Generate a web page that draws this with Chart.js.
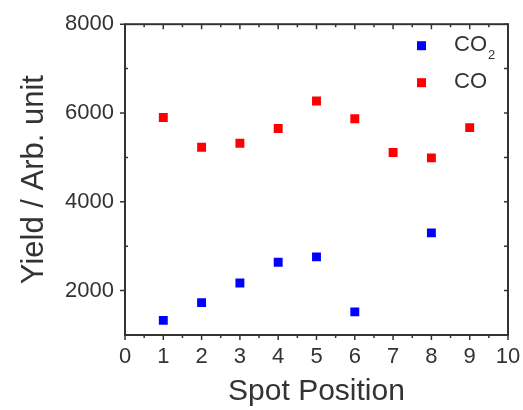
<!DOCTYPE html>
<html>
<head>
<meta charset="utf-8">
<script src="https://cdn.jsdelivr.net/npm/chart.js@4/dist/chart.umd.min.js"></script>
<style>
  body { margin: 0; background: #fff; }
  canvas { display: block; }
</style>
</head>
<body>
<canvas id="yieldChart" width="523" height="410"></canvas>
<script>
// data
const co2Spots = [1, 2, 3, 4, 5, 6, 8];
const co2Yield = [1330, 1730, 2170, 2640, 2760, 1520, 3300];
const coSpots = [1, 2, 3, 4, 5, 6, 7, 8, 9];
const coYield = [5900, 5230, 5320, 5650, 6270, 5870, 5110, 4990, 5670];

const xMajorTicks = [0, 1, 2, 3, 4, 5, 6, 7, 8, 9, 10];
const xMinorTicks = [0.5, 1.5, 2.5, 3.5, 4.5, 5.5, 6.5, 7.5, 8.5, 9.5];
const yMajorTicks = [2000, 4000, 6000, 8000];
const yMinorTicks = [1000, 3000, 5000, 7000];

const axisColor = '#333';
const fontFamily = '"Liberation Sans", Arial, sans-serif';

function toPoints(xs, ys) {
    return xs.map((x, i) => ({ x: x, y: ys[i] }));
}

// Box frame, tick marks on all four sides
const framePlugin = {
    id: 'frame',
    afterDraw(chart) {
        const ctx = chart.ctx;
        const { left, right, top, bottom } = chart.chartArea;
        const x = chart.scales.x;
        const y = chart.scales.y;
        ctx.save();
        ctx.strokeStyle = axisColor;
        ctx.lineWidth = 2;
        ctx.strokeRect(left, top, right - left, bottom - top);

        ctx.lineWidth = 1.5;
        ctx.beginPath();
        xMajorTicks.forEach(v => {
            const px = x.getPixelForValue(v);
            ctx.moveTo(px, bottom); ctx.lineTo(px, bottom + 5);
            ctx.moveTo(px, top); ctx.lineTo(px, top + 5);
        });
        xMinorTicks.forEach(v => {
            const px = x.getPixelForValue(v);
            ctx.moveTo(px, bottom); ctx.lineTo(px, bottom + 3);
            ctx.moveTo(px, top); ctx.lineTo(px, top + 3);
        });
        yMajorTicks.forEach(v => {
            const py = y.getPixelForValue(v);
            ctx.moveTo(left - 5, py); ctx.lineTo(left, py);
            ctx.moveTo(right, py); ctx.lineTo(right - 4, py);
        });
        yMinorTicks.forEach(v => {
            const py = y.getPixelForValue(v);
            ctx.moveTo(left, py); ctx.lineTo(left + 3, py);
            ctx.moveTo(right, py); ctx.lineTo(right - 4, py);
        });
        ctx.stroke();
        ctx.restore();
    }
};

// Legend in the upper right corner, with the subscript for CO2
const legendPlugin = {
    id: 'cornerLegend',
    afterDraw(chart) {
        const ctx = chart.ctx;
        const { right, top } = chart.chartArea;
        const entries = chart.data.datasets.map(ds => ({ color: ds.backgroundColor, label: ds.label, sub: ds.sub }));
        ctx.save();
        ctx.textBaseline = 'middle';
        entries.forEach((e, i) => {
            const cy = top + 21 + i * 37;
            const mx = right - 87;
            ctx.fillStyle = e.color;
            ctx.fillRect(mx - 4, cy - 4, 9, 9);
            ctx.fillStyle = axisColor;
            ctx.font = '22px ' + fontFamily;
            ctx.fillText(e.label, mx + 33, cy);
            if (e.sub) {
                const w = ctx.measureText(e.label).width;
                ctx.font = '13px ' + fontFamily;
                ctx.fillText(e.sub, mx + 33 + w + 1, cy + 10);
            }
        });
        ctx.restore();
    }
};

const ctx = document.getElementById('yieldChart').getContext('2d');
new Chart(ctx, {
    type: 'scatter',
    data: {
        datasets: [{
            label: 'CO',
            sub: '2',
            data: toPoints(co2Spots, co2Yield),
            backgroundColor: '#0000ff',
            borderColor: '#0000ff',
            pointStyle: 'rect',
            pointRadius: 6.3,
            borderWidth: 0
        }, {
            label: 'CO',
            data: toPoints(coSpots, coYield),
            backgroundColor: '#ff0000',
            borderColor: '#ff0000',
            pointStyle: 'rect',
            pointRadius: 6.3,
            borderWidth: 0
        }]
    },
    options: {
        responsive: false,
        animation: false,
        layout: { padding: { left: 0, right: 15, top: 22, bottom: 0 } },
        plugins: {
            legend: { display: false },
            tooltip: { enabled: false }
        },
        scales: {
            x: {
                type: 'linear',
                min: 0,
                max: 10,
                grid: { display: false, drawTicks: false },
                border: { display: false },
                ticks: {
                    stepSize: 1,
                    padding: 9,
                    color: axisColor,
                    font: { family: fontFamily, size: 22 }
                },
                title: {
                    display: true,
                    text: 'Spot Position',
                    color: axisColor,
                    font: { family: fontFamily, size: 30 },
                    padding: { top: 0, bottom: 0 }
                },
                afterFit(scale) {
                    scale.height = 75;
                    scale.paddingLeft = 0;
                    scale.paddingRight = 0;
                }
            },
            y: {
                min: 1000,
                max: 8000,
                grid: { display: false, drawTicks: false },
                border: { display: false },
                ticks: {
                    stepSize: 1000,
                    padding: 11,
                    color: axisColor,
                    font: { family: fontFamily, size: 22 },
                    callback: v => (v % 2000 === 0 ? v : '')
                },
                title: {
                    display: true,
                    text: 'Yield / Arb. unit',
                    color: axisColor,
                    font: { family: fontFamily, size: 31 },
                    padding: { top: 16, bottom: 0 }
                },
                afterFit(scale) { scale.width = 125; }
            }
        }
    },
    plugins: [framePlugin, legendPlugin]
});
</script>
</body>
</html>
